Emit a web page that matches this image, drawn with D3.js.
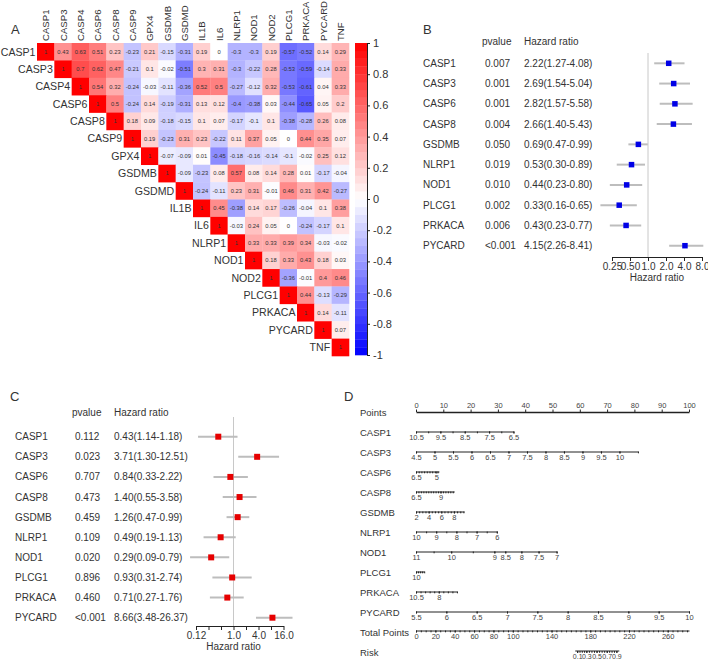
<!DOCTYPE html>
<html>
<head>
<meta charset="utf-8">
<script src="https://cdn.jsdelivr.net/npm/d3@7"></script>
<style>
  body { margin: 0; background: #fff; }
  svg { font-family: "Liberation Sans", Arial, sans-serif; }
</style>
</head>
<body>
<svg id="fig" width="708" height="659"></svg>
<script>
// ---- A: correlation heatmap (upper triangle, each row starts at diagonal)
const genes = ["CASP1","CASP3","CASP4","CASP6","CASP8","CASP9","GPX4","GSDMB","GSDMD","IL1B","IL6","NLRP1","NOD1","NOD2","PLCG1","PRKACA","PYCARD","TNF"];
const corr = [
  [1, 0.43, 0.63, 0.51, 0.23, -0.23, 0.21, -0.15, -0.31, 0.19, 0, -0.3, -0.3, 0.19, -0.57, -0.52, 0.14, 0.29],
  [1, 0.7, 0.62, 0.47, -0.21, 0.1, -0.02, -0.51, 0.3, 0.31, -0.3, -0.22, 0.28, -0.53, -0.59, -0.14, 0.33],
  [1, 0.54, 0.32, -0.24, -0.03, -0.11, -0.36, 0.52, 0.5, -0.27, -0.12, 0.32, -0.53, -0.61, 0.04, 0.33],
  [1, 0.5, -0.24, 0.14, -0.19, -0.31, 0.13, 0.12, -0.4, -0.38, 0.03, -0.44, -0.65, 0.05, 0.2],
  [1, 0.18, 0.09, -0.18, -0.15, 0.1, 0.07, -0.17, -0.1, 0.1, -0.38, -0.28, 0.26, 0.08],
  [1, 0.19, -0.23, 0.31, 0.23, -0.22, 0.11, 0.37, 0.05, 0, 0.44, 0.35, 0.07],
  [1, -0.07, -0.09, 0.01, -0.45, -0.18, -0.16, -0.14, -0.1, -0.02, 0.25, 0.12],
  [1, -0.09, -0.23, 0.08, 0.57, 0.08, 0.14, 0.28, 0.01, -0.17, -0.04],
  [1, -0.24, -0.11, 0.23, 0.31, -0.01, 0.46, 0.31, 0.42, -0.27],
  [1, 0.45, -0.38, 0.14, 0.17, -0.26, -0.04, 0.1, 0.38],
  [1, -0.03, 0.24, 0.05, 0, -0.24, -0.17, 0.1],
  [1, 0.33, 0.33, 0.39, 0.34, -0.03, -0.02],
  [1, 0.18, 0.33, 0.43, 0.18, 0.03],
  [1, -0.36, -0.01, 0.4, 0.46],
  [1, 0.44, -0.13, -0.29],
  [1, 0.14, -0.11],
  [1, 0.07],
  [1]
];
const barTicks = [-1, -0.8, -0.6, -0.4, -0.2, 0, 0.2, 0.4, 0.6, 0.8, 1];

// ---- B: univariate Cox
const coxGenes = ["CASP1","CASP3","CASP6","CASP8","GSDMB","NLRP1","NOD1","PLCG1","PRKACA","PYCARD"];
const bPval = ["0.007","0.001","0.001","0.004","0.050","0.019","0.010","0.002","0.006","<0.001"];
const bHR   = [2.22, 2.69, 2.82, 2.66, 0.69, 0.53, 0.44, 0.33, 0.43, 4.15];
const bLow  = [1.27, 1.54, 1.57, 1.40, 0.47, 0.30, 0.23, 0.16, 0.23, 2.26];
const bHigh = [4.08, 5.04, 5.58, 5.43, 0.99, 0.89, 0.80, 0.65, 0.77, 8.41];
const bTicks = [0.25, 0.5, 1, 2, 4, 8];

// ---- C: multivariate Cox (printed text vs. drawn whiskers)
const cPval = ["0.112","0.023","0.707","0.473","0.459","0.109","0.020","0.896","0.460","<0.001"];
const cText = ["0.43(1.14-1.18)","3.71(1.30-12.51)","0.84(0.33-2.22)","1.40(0.55-3.58)","1.26(0.47-0.99)",
               "0.49(0.19-1.13)","0.29(0.09-0.79)","0.93(0.31-2.74)","0.71(0.27-1.76)","8.66(3.48-26.37)"];
const cHR   = [0.43, 3.71, 0.84, 1.40, 1.26, 0.49, 0.29, 0.93, 0.71, 8.66];
const cLow  = [0.14, 1.30, 0.33, 0.55, 0.68, 0.19, 0.09, 0.31, 0.27, 3.48];
const cHigh = [1.25, 12.51, 2.22, 3.58, 2.40, 1.13, 0.79, 2.74, 1.76, 26.37];
const cTicks = [0.125, 0.25, 0.5, 1, 2, 4, 8, 16];
const cTickLabels = [0.125, 1, 4, 16];

// ---- D: nomogram
const pointLabels = [0, 10, 20, 30, 40, 50, 60, 70, 80, 90, 100];
const nomoVars = ["CASP1","CASP3","CASP6","CASP8","GSDMB","NLRP1","NOD1","PLCG1","PRKACA","PYCARD"];
const nomoValues = [[10.5, 6.5], [4.5, 10.5], [6.5, 4.8], [6.5, 10.4], [2, 9.6], [10, 6],
                    [11, 10, 9, 8.5, 8, 7.5, 7], [10, 9.6], [10.5, 6], [5.5, 10]];
const nomoPoints = [[0, 35.7], [0, 81.3], [0, 8.4], [0, 14], [0, 17.6], [0, 29.6],
                    [0, 12.9, 28.7, 32.7, 38.6, 44.9, 51.5], [0, 3], [0, 15], [0, 100]];
const nomoLabels = [[10.5, 9.5, 8.5, 7.5, 6.5], [4.5, 5, 5.5, 6, 6.5, 7, 7.5, 8, 8.5, 9, 9.5, 10],
                    [6.5, 5], [6.5, 9], [2, 4, 6, 8], [10, 9, 8, 7, 6], [11, 10, 9, 8.5, 8, 7.5, 7],
                    [10], [10.5, 8], [5.5, 6, 6.5, 7, 7.5, 8, 8.5, 9, 9.5, 10]];
const nomoStep = [0.5, 0.5, 0.2, 0.25, 0.5, 0.5, 0.5, 0.1, 0.5, 0.5];
const totalLabels = [0, 20, 40, 60, 80, 100, 140, 180, 220, 260];
const totalMax = 282;
const riskLabels = [0.1, 0.3, 0.5, 0.7, 0.9];
const riskTotals = [166.5, 176, 186.5, 197, 207];
const riskEnds = [164.5, 210];

const svg = d3.select("#fig");
const TXT = "#333";

function panelLetter(t, x, y) {
  svg.append("text").attr("x", x).attr("y", y).attr("font-size", 13).attr("fill", TXT).text(t);
}
function styleAxis(g, size, color) {
  g.attr("font-family", null).attr("font-size", size);
  g.selectAll("text").attr("fill", color || TXT);
  g.selectAll("line").attr("stroke", "#222");
  g.select(".domain").attr("stroke", "#222");
}

// ===================== A =====================
panelLetter("A", 11, 34);
const hx = d3.scaleBand().domain(genes).range([37, 349]);
const hy = d3.scaleBand().domain(genes).range([43, 356]);
const heat = d3.scaleLinear().domain([-1, 0, 1]).range(["#0000ff", "#ffffff", "#ff0000"]);

const cells = [];
corr.forEach((row, i) => row.forEach((v, j) => cells.push({ r: genes[i], c: genes[i + j], v })));

const gA = svg.append("g");
gA.selectAll("rect.cell").data(cells).join("rect")
  .attr("class", "cell")
  .attr("x", d => hx(d.c)).attr("y", d => hy(d.r))
  .attr("width", hx.bandwidth() + 0.3).attr("height", hy.bandwidth() + 0.3)
  .attr("fill", d => heat(d.v));
gA.selectAll("text.val").data(cells).join("text")
  .attr("class", "val")
  .attr("x", d => hx(d.c) + hx.bandwidth() / 2)
  .attr("y", d => hy(d.r) + hy.bandwidth() / 2)
  .attr("dy", "0.35em").attr("text-anchor", "middle")
  .attr("font-size", 5.8).attr("fill", "#333")
  .text(d => String(d.v));

// row labels left of diagonal
gA.selectAll("text.rowlab").data(genes).join("text")
  .attr("class", "rowlab")
  .attr("x", d => hx(d) - 1.5).attr("y", d => hy(d) + hy.bandwidth() / 2)
  .attr("dy", "0.36em").attr("text-anchor", "end")
  .attr("font-size", 10.6).attr("fill", TXT).text(d => d);
// column labels on top
gA.selectAll("text.collab").data(genes).join("text")
  .attr("class", "collab")
  .attr("transform", d => `translate(${hx(d) + hx.bandwidth() / 2 + 3.5},41) rotate(-90)`)
  .attr("text-anchor", "start")
  .attr("font-size", 9.6).attr("fill", TXT).text(d => d);

// colour bar
const cy = d3.scaleLinear().domain([-1, 1]).range([355, 43]);
const steps = d3.range(-1, 1, 0.05);
gA.selectAll("rect.bar").data(steps).join("rect")
  .attr("class", "bar")
  .attr("x", 355).attr("width", 12)
  .attr("y", d => cy(d + 0.05)).attr("height", d => cy(d) - cy(d + 0.05) + 0.3)
  .attr("fill", d => heat(d + 0.025));
gA.append("g").attr("transform", "translate(367,0)")
  .call(d3.axisRight(cy).tickValues(barTicks).tickSize(3).tickSizeOuter(0).tickFormat(d => String(d)))
  .call(g => styleAxis(g, 11));

// ===================== forest plots =====================
function hrFormat(d) {
  return d < 1 ? (Math.floor(d * 100 + 1e-6) / 100).toFixed(2) : d.toFixed(1);
}
function forest(opt) {
  const g = svg.append("g");
  const yRow = d3.scaleLinear().domain([0, coxGenes.length - 1]).range(opt.rows);
  const x = d3.scaleLog().base(2).domain(opt.domain).range(opt.range);

  g.append("text").attr("x", opt.pX - 3).attr("y", opt.headY).attr("font-size", 10).attr("fill", TXT).text("pvalue");
  g.append("text").attr("x", opt.hrX).attr("y", opt.headY).attr("font-size", 10).attr("fill", TXT).text("Hazard ratio");

  coxGenes.forEach((name, i) => {
    const y = yRow(i);
    g.append("text").attr("x", opt.nameX).attr("y", y).attr("dy", "0.35em").attr("font-size", 10).attr("fill", TXT).text(name);
    g.append("text").attr("x", opt.pX).attr("y", y).attr("dy", "0.35em").attr("font-size", 10).attr("fill", TXT).text(opt.pval[i]);
    g.append("text").attr("x", opt.hrX).attr("y", y).attr("dy", "0.35em").attr("font-size", 10).attr("fill", TXT).text(opt.text[i]);
  });

  // reference line at HR = 1
  g.append("line").attr("x1", x(1)).attr("x2", x(1))
    .attr("y1", opt.refTop).attr("y2", opt.axisY)
    .attr("stroke", "#c8c8c8").attr("stroke-width", 1);

  g.selectAll("line.ci").data(coxGenes).join("line")
    .attr("class", "ci")
    .attr("x1", (d, i) => x(opt.low[i])).attr("x2", (d, i) => x(opt.high[i]))
    .attr("y1", (d, i) => yRow(i)).attr("y2", (d, i) => yRow(i))
    .attr("stroke", "#bdbdbd").attr("stroke-width", 2);
  const s = opt.box;
  g.selectAll("rect.pt").data(coxGenes).join("rect")
    .attr("class", "pt")
    .attr("x", (d, i) => x(opt.hr[i]) - s / 2).attr("y", (d, i) => yRow(i) - s / 2)
    .attr("width", s).attr("height", s).attr("fill", opt.color);

  g.append("g").attr("transform", `translate(0,${opt.axisY})`)
    .call(d3.axisBottom(x).tickValues(opt.ticks).tickSize(4).tickSizeOuter(0).tickPadding(1.5)
      .tickFormat(d => opt.labels.includes(d) ? hrFormat(d) : ""))
    .call(g2 => styleAxis(g2, 10));
  g.append("text").attr("x", x(opt.labelAt)).attr("y", opt.axisY + 24)
    .attr("text-anchor", "middle").attr("font-size", 10).attr("fill", TXT).text("Hazard ratio");
}

panelLetter("B", 423, 34);
forest({
  rows: [63.3, 245.7], domain: [0.25, 8], range: [612, 702],
  nameX: 423, pX: 485, hrX: 524, headY: 45,
  pval: bPval, text: bHR.map((h, i) => `${h.toFixed(2)}(${bLow[i].toFixed(2)}-${bHigh[i].toFixed(2)})`),
  hr: bHR, low: bLow, high: bHigh, ticks: bTicks, labels: bTicks,
  refTop: 53, axisY: 257, box: 5.5, color: "#0000e6", labelAt: 1.41
});

panelLetter("C", 10, 401);
forest({
  rows: [436.7, 617.7], domain: [0.125, 16], range: [196, 283.5],
  nameX: 15, pX: 75, hrX: 114, headY: 416,
  pval: cPval, text: cText,
  hr: cHR, low: cLow, high: cHigh, ticks: cTicks, labels: cTickLabels,
  refTop: 417, axisY: 626, box: 6, color: "#e60000", labelAt: 1
});

// ===================== D: nomogram =====================
panelLetter("D", 344, 401);
const gD = svg.append("g");
const px = d3.scaleLinear().domain([0, 100]).range([416, 689]);
const tx = d3.scaleLinear().domain([0, totalMax]).range([416, 689]);
const rowY = d3.scaleLinear().domain([0, 12]).range([413, 653]);
const rowNames = ["Points"].concat(nomoVars, ["Total Points", "Risk"]);

gD.selectAll("text.nlab").data(rowNames).join("text")
  .attr("class", "nlab")
  .attr("x", 360).attr("y", (d, i) => rowY(i)).attr("dy", "0.35em")
  .attr("font-size", 9.5).attr("fill", TXT).text(d => d);

function minorTicks(anchor, lo, hi, step) {
  const k0 = Math.ceil((lo - anchor) / step - 1e-9), k1 = Math.floor((hi - anchor) / step + 1e-9);
  return d3.range(k0, k1 + 1).map(k => +(anchor + k * step).toFixed(4));
}

// Points axis (labels above)
gD.append("g").attr("transform", `translate(0,${rowY(0) - 1})`)
  .call(d3.axisTop(px).tickValues(pointLabels).tickSize(2.5).tickSizeOuter(0).tickPadding(1.5))
  .call(g => styleAxis(g, 7.5, "#444"))
  .call(g => g.select(".domain").attr("stroke-width", 1.3));

// variable axes
nomoVars.forEach((v, i) => {
  const vals = nomoValues[i];
  const sc = d3.scaleLinear().domain(vals).range(nomoPoints[i].map(px));
  const y = rowY(i + 1) - 1.5;
  const lo = d3.min(vals), hi = d3.max(vals);
  gD.append("g").attr("transform", `translate(0,${y})`)
    .call(d3.axisBottom(sc).tickValues(minorTicks(nomoLabels[i][0], lo, hi, nomoStep[i])).tickSize(1.8).tickSizeOuter(0).tickFormat(""))
    .call(g => styleAxis(g, 7.5, "#444"));
  gD.append("g").attr("transform", `translate(0,${y})`)
    .call(d3.axisBottom(sc).tickValues(nomoLabels[i]).tickSize(2).tickSizeOuter(0).tickPadding(1).tickFormat(d => String(d)))
    .call(g => styleAxis(g, 7.5, "#444"))
    .call(g => g.select(".domain").remove());
});

// Total points
const yT = rowY(11) - 2.5;
gD.append("g").attr("transform", `translate(0,${yT})`)
  .call(d3.axisBottom(tx).tickValues(d3.range(0, totalMax + 1, 5)).tickSize(1.8).tickSizeOuter(0).tickFormat(""))
  .call(g => styleAxis(g, 7.5, "#444"));
gD.append("g").attr("transform", `translate(0,${yT})`)
  .call(d3.axisBottom(tx).tickValues(totalLabels).tickSize(2).tickSizeOuter(0).tickPadding(1.5).tickFormat(d => String(d)))
  .call(g => styleAxis(g, 7.5, "#444"))
  .call(g => g.select(".domain").remove());

// Risk
const rs = d3.scaleLinear().domain(riskLabels).range(riskTotals.map(tx));
const yR = rowY(12) - 2;
gD.append("line").attr("x1", tx(riskEnds[0])).attr("x2", tx(riskEnds[1]))
  .attr("y1", yR).attr("y2", yR).attr("stroke", "#222");
gD.append("g").attr("transform", `translate(0,${yR})`)
  .call(d3.axisBottom(rs).tickValues(d3.range(0.1, 0.91, 0.05).map(d => +d.toFixed(2))).tickSize(1.8).tickSizeOuter(0).tickFormat(""))
  .call(g => styleAxis(g, 7, "#444"))
  .call(g => g.select(".domain").remove());
gD.append("g").attr("transform", `translate(0,${yR})`)
  .call(d3.axisBottom(rs).tickValues(riskLabels).tickSize(2).tickSizeOuter(0).tickPadding(1).tickFormat(d => String(d)))
  .call(g => styleAxis(g, 7, "#444"))
  .call(g => g.select(".domain").remove());
</script>
</body>
</html>
